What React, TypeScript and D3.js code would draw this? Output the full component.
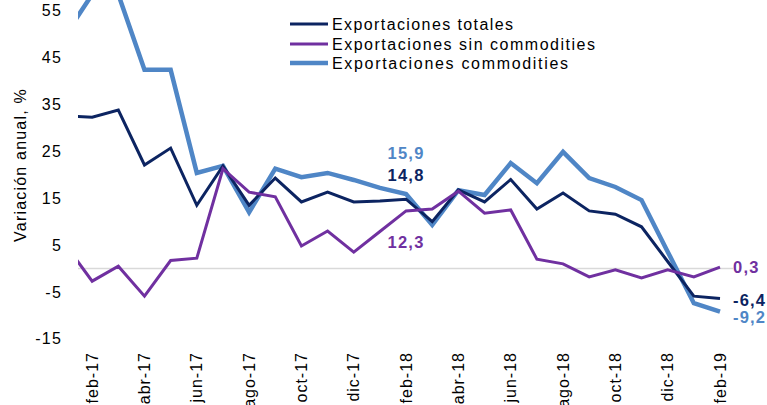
import React from "react";
import * as d3 from "d3";

const months = ["ene-17","feb-17","mar-17","abr-17","may-17","jun-17","jul-17","ago-17","sep-17","oct-17","nov-17","dic-17","ene-18","feb-18","mar-18","abr-18","may-18","jun-18","jul-18","ago-18","sep-18","oct-18","nov-18","dic-18","ene-19","feb-19"];

const totales = [32.6, 32.3, 33.8, 22.1, 25.7, 13.5, 21.9, 13.5, 19.3, 14.2, 16.3, 14.2, 14.4, 14.8, 10.0, 16.8, 14.2, 19.0, 12.7, 16.1, 12.3, 11.6, 8.9, 1.5, -5.9, -6.4];
const sinCommodities = [4.9, -2.7, 0.5, -5.9, 1.7, 2.2, 21.3, 16.3, 15.3, 4.8, 8.0, 3.5, 7.9, 12.3, 12.7, 16.5, 11.8, 12.5, 2.0, 1.0, -1.8, -0.3, -2.0, -0.3, -1.8, 0.3];
const commodities = [50.0, 58.5, 58.5, 42.4, 42.4, 20.4, 21.9, 12.0, 21.3, 19.5, 20.4, 18.9, 17.2, 15.9, 9.3, 16.7, 15.7, 22.5, 18.2, 24.9, 19.3, 17.4, 14.6, 3.6, -7.4, -9.2];

const yTicks = [55, 45, 35, 25, 15, 5, -5, -15];
const tickMonths = ["feb-17","abr-17","jun-17","ago-17","oct-17","dic-17","feb-18","abr-18","jun-18","ago-18","oct-18","dic-18","feb-19"];

const seriesNames = ["Exportaciones totales", "Exportaciones sin commodities", "Exportaciones commodities"];
const seriesColors = ["#0c2461", "#7030a0", "#4f86c6"];
const seriesWidths = [3, 3, 4.5];
const legendWidths = [181, 263, 236];

export default function App() {
  const x = d3.scaleLinear().domain([0, months.length - 1]).range([66, 720]);
  const y = d3.scaleLinear().domain([-15, 55]).range([338.8, 10.8]);
  const line = d3.line<number>().x((_, i) => x(i)).y((d) => y(d));
  const data = [totales, sinCommodities, commodities];
  const plotLeft = 78, plotRight = 733;
  const font = "'Liberation Sans', Arial, sans-serif";
  const last = months.length - 1;
  const iFeb18 = months.indexOf("feb-18");

  const endLabels = [
    { s: 1, v: sinCommodities[last], dy: 0 },
    { s: 0, v: totales[last], dy: 2 },
    { s: 2, v: commodities[last], dy: 6 },
  ];
  const midLabels = [
    { s: 2, v: commodities[iFeb18], dy: -41 },
    { s: 0, v: totales[iFeb18], dy: -24 },
    { s: 1, v: sinCommodities[iFeb18], dy: 31 },
  ];
  const fmt = (v: number) => v.toFixed(1).replace(".", ",");

  return (
    <svg width={767} height={405} style={{ position: "absolute", left: 0, top: 0, background: "#fff" }} fontFamily={font}>
      <defs>
        <clipPath id="plot">
          <rect x={plotLeft} y={-20} width={plotRight - plotLeft} height={440} />
        </clipPath>
      </defs>
      <line x1={plotLeft} x2={plotRight} y1={y(0)} y2={y(0)} stroke="#d9d9d9" strokeWidth={1.5} />
      {yTicks.map((t) => (
        <text key={t} x={62} y={y(t)} dy="0.35em" textAnchor="end" fontSize={16} letterSpacing={1.2} fill="#000">{t}</text>
      ))}
      <text transform={`translate(20,165) rotate(-90)`} textAnchor="middle" dy="0.35em" fontSize={16} letterSpacing={1.2} fill="#000">Variación anual, %</text>
      {tickMonths.map((m) => {
        const i = months.indexOf(m);
        return (
          <text key={m} transform={`translate(${x(i)},352) rotate(-90)`} textAnchor="end" dy="0.35em" fontSize={16} letterSpacing={1} fill="#000">{m}</text>
        );
      })}
      <g clipPath="url(#plot)">
        {[2, 0, 1].map((s) => (
          <path key={s} d={line(data[s]) || ""} fill="none" stroke={seriesColors[s]} strokeWidth={seriesWidths[s]} strokeLinejoin="miter" />
        ))}
      </g>
      {seriesNames.map((n, k) => {
        const ly = [24, 44, 63][k];
        return (
          <g key={n}>
            <line x1={290} x2={328} y1={ly} y2={ly} stroke={seriesColors[k]} strokeWidth={seriesWidths[k]} />
            <text x={332} y={ly} dy="0.35em" fontSize={16} textLength={legendWidths[k]} lengthAdjust="spacing" fill="#000">{n}</text>
          </g>
        );
      })}
      {endLabels.map((l) => (
        <text key={"e" + l.s} x={x(last) + 13} y={y(l.v) + l.dy} dy="0.35em" fontSize={16.5} fontWeight="bold" letterSpacing={1.2} fill={seriesColors[l.s]}>{fmt(l.v)}</text>
      ))}
      {midLabels.map((l) => (
        <text key={"m" + l.s} x={x(iFeb18)} y={y(l.v) + l.dy} dy="0.35em" textAnchor="middle" fontSize={16.5} fontWeight="bold" letterSpacing={1.2} fill={seriesColors[l.s]}>{fmt(l.v)}</text>
      ))}
    </svg>
  );
}
